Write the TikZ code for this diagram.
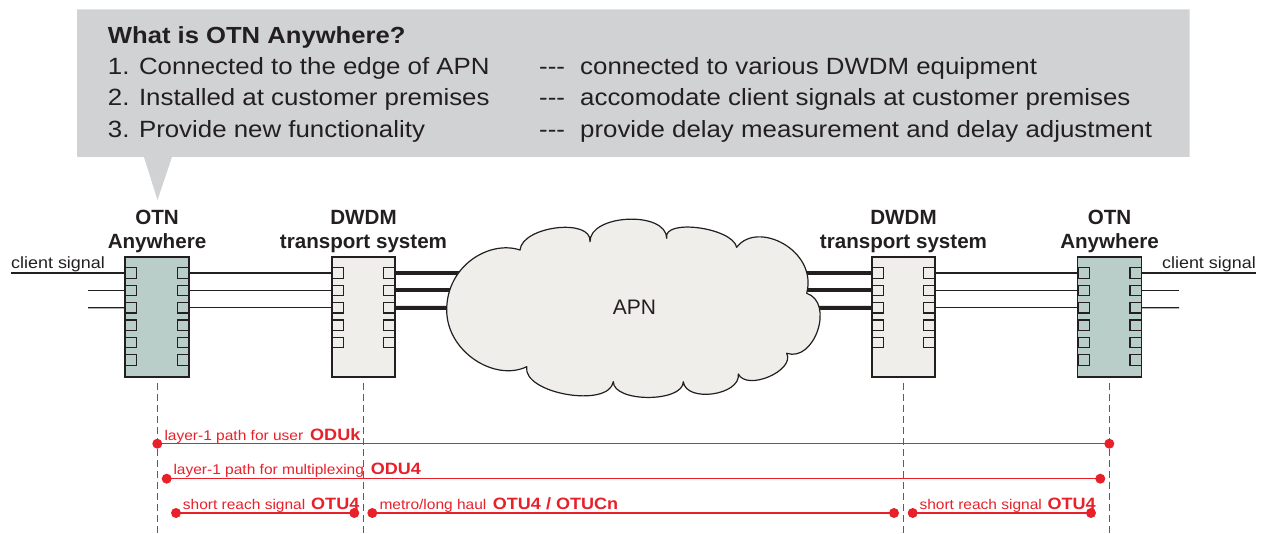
\documentclass[tikz,border=0pt]{standalone}
\usepackage{fontspec}
\setmainfont{Liberation Sans}
\newfontfamily\widef[FakeStretch=1.1]{Liberation Sans}
\newfontfamily\redff[FakeStretch=1.1]{Liberation Sans}
\definecolor{calgray}{HTML}{D1D2D4}
\definecolor{otnfill}{HTML}{B9CDC9}
\definecolor{dwfill}{HTML}{F0EEEA}
\definecolor{redl}{HTML}{E8202A}
\definecolor{ink}{HTML}{231F20}
\begin{document}
\begin{tikzpicture}[x=1pt,y=-1pt,
  otnbox/.style={draw=ink,line width=1.3pt,fill=otnfill,minimum width=64pt,minimum height=120pt,inner sep=0pt},
  dwbox/.style={otnbox,fill=dwfill,minimum width=63pt},
  otnport/.style={draw=ink,line width=1.2pt,fill=otnfill,minimum width=11.5pt,minimum height=10.5pt,inner sep=0pt},
  dwport/.style={otnport,fill=dwfill},
  wire/.style={draw=ink,line width=1.2pt},
  fiber/.style={draw=ink,line width=4pt},
  vguide/.style={draw=redl,line width=1pt,dash pattern=on 7pt off 4pt},
  rpath/.style={draw=redl,line width=1.5pt},
  rdot/.style={circle,fill=redl,inner sep=0pt,minimum size=10pt},
  rlab/.style={anchor=base west,inner sep=0pt,text=redl,font=\redff\fontsize{14.1}{16}\selectfont},
  rbold/.style={anchor=base west,inner sep=0pt,text=redl,font=\redff\bfseries\fontsize{16.4}{18}\selectfont},
  caltext/.style={anchor=base west,inner sep=0pt,text=ink,font=\widef\fontsize{23.5}{26}\selectfont},
  caltitle/.style={caltext,font=\widef\bfseries\fontsize{23.3}{26}\selectfont},
  devlabel/.style={anchor=base,inner sep=0pt,text=ink,font=\bfseries\fontsize{20.6}{24}\selectfont},
  clientlab/.style={inner sep=0pt,text=ink,font=\widef\fontsize{16.3}{18}\selectfont},
]
\useasboundingbox (0,0) rectangle (1261,534);

% ---------- callout ----------
\fill[calgray] (77,9.5) -- (1189.5,9.5) -- (1189.5,157) -- (172,157) -- (157.5,200) -- (144,157) -- (77,157) -- cycle;
\node[caltitle] (ctitle) at (107.7,43.3) {What is OTN Anywhere?};
\node[caltext] (c1a) at (107.7,74.3) {1. Connected to the edge of APN};
\node[caltext] (c2a) at (107.7,105.8) {2. Installed at customer premises};
\node[caltext] (c3a) at (107.7,137.3) {3. Provide new functionality};
\node[caltext] (c1d) at (539,74.3) {---};
\node[caltext] (c2d) at (539,105.8) {---};
\node[caltext] (c3d) at (539,137.3) {---};
\node[caltext] (c1b) at (580,74.3) {connected to various DWDM equipment};
\node[caltext] (c2b) at (580,105.8) {accomodate client signals at customer premises};
\node[caltext] (c3b) at (580,137.3) {provide delay measurement and delay adjustment};

% ---------- device labels ----------
\node[devlabel] (lOtnL1) at (157,224.3) {OTN};
\node[devlabel] (lOtnL2) at (157,248.3) {Anywhere};
\node[devlabel] (lDwL1) at (363.5,224.3) {DWDM};
\node[devlabel] (lDwL2) at (363.5,248.3) {transport system};
\node[devlabel] (lDwR1) at (903.5,224.3) {DWDM};
\node[devlabel] (lDwR2) at (903.5,248.3) {transport system};
\node[devlabel] (lOtnR1) at (1109.5,224.3) {OTN};
\node[devlabel] (lOtnR2) at (1109.5,248.3) {Anywhere};
\node[clientlab,anchor=base west] (clL) at (11,268.5) {client signal};
\node[clientlab,anchor=base east] (clR) at (1256,268.5) {client signal};

% ---------- boxes ----------
\node[otnbox] (otnL) at (157,317) {};
\node[dwbox] (dwL) at (363.5,317) {};
\node[dwbox] (dwR) at (903.5,317) {};
\node[otnbox] (otnR) at (1109.5,317) {};
\foreach \k in {1,...,6}{
  \pgfmathsetmacro\yy{273+17.4*(\k-1)}
  \node[otnport] (oLl\k) at (131,\yy) {};
  \node[otnport] (oLr\k) at (183.25,\yy) {};
  \node[otnport] (oRl\k) at (1083.75,\yy) {};
  \node[otnport] (oRr\k) at (1135.75,\yy) {};
}
\foreach \k in {1,...,5}{
  \pgfmathsetmacro\yy{273+17.4*(\k-1)}
  \node[dwport] (dLl\k) at (337.75,\yy) {};
  \node[dwport] (dLr\k) at (389.25,\yy) {};
  \node[dwport] (dRl\k) at (877.75,\yy) {};
  \node[dwport] (dRr\k) at (929.25,\yy) {};
}

% ---------- wires ----------
\coordinate (cL1) at (11,273);
\coordinate (cL2) at (88,290.4);
\coordinate (cL3) at (88,307.8);
\coordinate (cR1) at (1256,273);
\coordinate (cR2) at (1179,290.4);
\coordinate (cR3) at (1179,307.8);
\foreach \k in {1,2,3}{
  \draw[wire] (cL\k) -- (oLl\k.west);
  \draw[wire] (oLr\k.east) -- (dLl\k.west);
  \draw[wire] (dRr\k.east) -- (oRl\k.west);
  \draw[wire] (oRr\k.east) -- (cR\k);
}
\coordinate (fL1) at (490,273);
\coordinate (fL2) at (490,290.4);
\coordinate (fL3) at (490,307.8);
\coordinate (fR1) at (780,273);
\coordinate (fR2) at (780,290.4);
\coordinate (fR3) at (780,307.8);
\foreach \k in {1,2,3}{
  \draw[fiber] (dLr\k.east) -- (fL\k);
  \draw[fiber] (fR\k) -- (dRl\k.west);
}

% ---------- cloud ----------
\draw[draw=ink,line width=1.2pt,fill=dwfill,line join=round]
  (520,250) .. controls (522.2,226) and (592.2,217.7) .. (590,241.7)
  .. controls (589.6,214) and (666.3,210.6) .. (666.7,238.3)
  .. controls (662.2,218.3) and (732.2,227.3) .. (736.7,247.3)
  .. controls (757,220) and (818,250) .. (806.7,293.3)
  .. controls (834.7,302.6) and (814.7,362.6) .. (786.7,353.3)
  .. controls (795.3,370.7) and (746.9,391.4) .. (738.3,374)
  .. controls (741,395.3) and (686,403) .. (683.3,381.7)
  .. controls (683.3,402.7) and (613.3,402.7) .. (613.3,381.7)
  .. controls (609,408.6) and (522.4,393.6) .. (526.7,366.7)
  .. controls (495,382) and (446.7,352) .. (446.7,310)
  .. controls (446.7,265) and (490,240) .. (520,250) -- cycle;
\node[inner sep=0pt,text=ink,font=\fontsize{21}{24}\selectfont] (apn) at (634.5,307.5) {APN};

% ---------- red guides ----------
\coordinate (g1t) at (157,383);   \coordinate (g1b) at (157,534);
\coordinate (g2t) at (363.5,383); \coordinate (g2b) at (363.5,534);
\coordinate (g3t) at (903.5,383); \coordinate (g3b) at (903.5,534);
\coordinate (g4t) at (1109.5,383);\coordinate (g4b) at (1109.5,534);
\foreach \k in {1,...,4}{ \draw[vguide] (g\k t) -- (g\k b); }

% path 1
\node[rdot] (p1a) at (157.3,443.7) {};
\node[rdot] (p1b) at (1109.3,443.7) {};
\draw[rpath] (p1a.center) -- (p1b.center);
\node[rlab] (t1a) at (164.3,440) {layer-1 path for user};
\node[rbold] (t1b) at (310,440) {ODUk};
% path 2
\node[rdot] (p2a) at (166.7,478.7) {};
\node[rdot] (p2b) at (1100.3,478.7) {};
\draw[rpath] (p2a.center) -- (p2b.center);
\node[rlab] (t2a) at (173.3,474) {layer-1 path for multiplexing};
\node[rbold] (t2b) at (370.7,474) {ODU4};
% path 3
\node[rdot] (p3a) at (176,513) {};
\node[rdot] (p3b) at (354.3,513) {};
\node[rdot] (p3c) at (372.3,513) {};
\node[rdot] (p3d) at (894,513) {};
\node[rdot] (p3e) at (912.7,513) {};
\node[rdot] (p3f) at (1091,513) {};
\draw[rpath] (p3a.center) -- (p3b.center);
\draw[rpath] (p3c.center) -- (p3d.center);
\draw[rpath] (p3e.center) -- (p3f.center);
\node[rlab] (t3a) at (182.7,509) {short reach signal};
\node[rbold] (t3b) at (311,509) {OTU4};
\node[rlab] (t3c) at (379.3,509) {metro/long haul};
\node[rbold] (t3d) at (492.7,509) {OTU4 / OTUCn};
\node[rlab] (t3e) at (919.3,509) {short reach signal};
\node[rbold] (t3f) at (1047.3,509) {OTU4};
\end{tikzpicture}
\end{document}
